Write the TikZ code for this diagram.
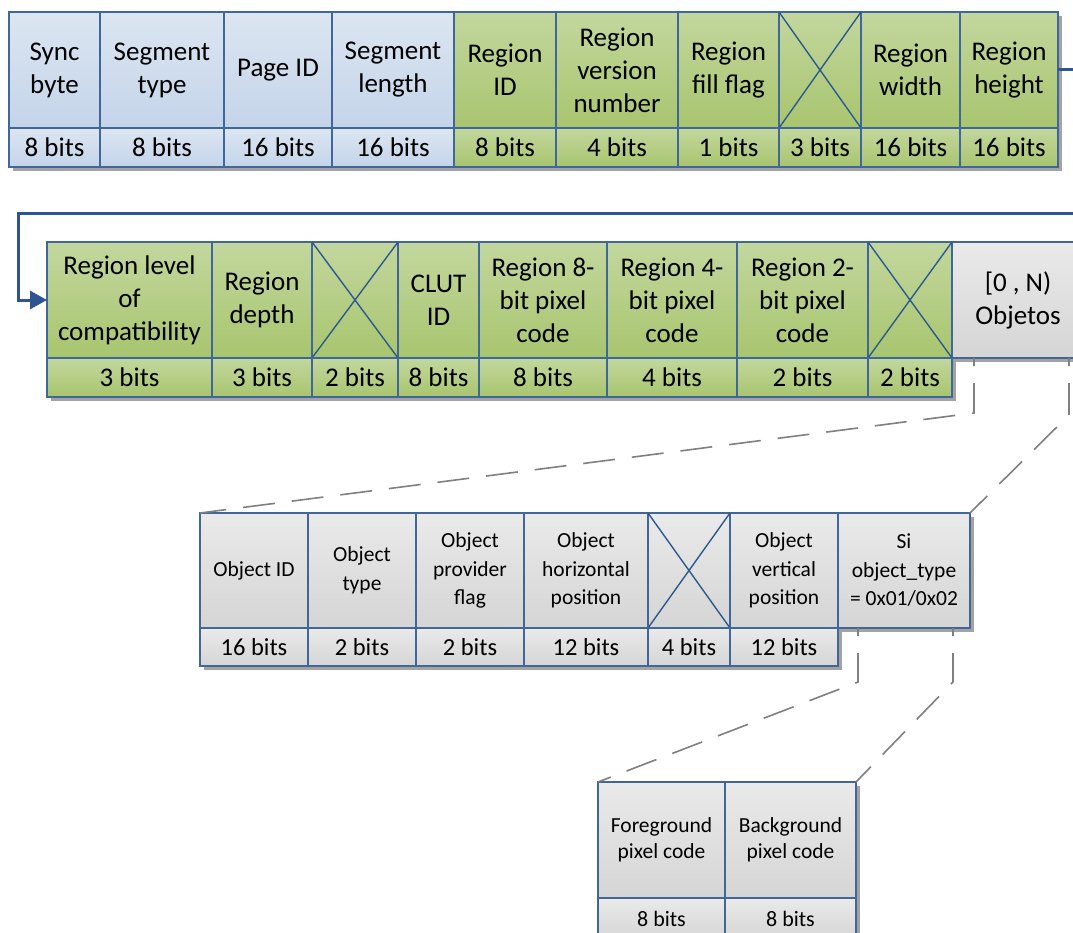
\documentclass[tikz,border=0pt]{standalone}
\usepackage{fontspec}
\setmainfont{Carlito}
\usetikzlibrary{arrows.meta}

\definecolor{bluetop}{HTML}{DCE6F2}
\definecolor{bluebot}{HTML}{C4D4E9}
\definecolor{greentop}{HTML}{C3D79E}
\definecolor{greenbot}{HTML}{A8C56E}
\definecolor{greytop}{HTML}{EAEAEA}
\definecolor{greybot}{HTML}{D5D5D5}
\definecolor{cellborder}{HTML}{41679A}
\definecolor{crossline}{HTML}{2D5A8E}
\definecolor{flowblue}{HTML}{2F5590}
\definecolor{shadowgrey}{HTML}{A3A3A3}
\definecolor{zoomgrey}{HTML}{808080}

\tikzset{
  cellbase/.style={draw=cellborder, line width=1.1pt, inner sep=0pt, outer sep=0pt,
    align=center, font=\fontsize{27}{33}\selectfont},
  bluecell/.style={cellbase, top color=bluetop, bottom color=bluebot},
  greencell/.style={cellbase, top color=greentop, bottom color=greenbot},
  greycell/.style={cellbase, top color=greytop, bottom color=greybot},
  objcell/.style={greycell, font=\fontsize{21.5}{28.5}\selectfont},
  objbits/.style={greycell, font=\fontsize{24.5}{28}\selectfont},
  pixcell/.style={greycell, font=\fontsize{21.5}{26.5}\selectfont},
  pixbits/.style={greycell, font=\fontsize{22}{26}\selectfont},
  reserved/.style={draw=crossline, line width=1.4pt},
  shadowbox/.style={fill=shadowgrey},
  flowarrow/.style={draw=flowblue, line width=3pt, -{Triangle[length=17pt,width=18pt]}},
  zoomline/.style={draw=zoomgrey, line width=1.6pt, dash pattern=on 32pt off 17pt, dash phase=24pt},
}

% field cell: name, x1, x2, y1, y2, style, text
\newcommand\fld[7]{%
  \node[#6, anchor=north west, minimum width={(#3-#2)*1pt},
        minimum height={(#5-#4)*1pt}] (#1) at (#2,#4) {#7};}
% cross over a reserved field
\newcommand\xcross[1]{%
  \draw[reserved] (#1.north west) -- (#1.south east) (#1.north east) -- (#1.south west);}

\begin{document}
\begin{tikzpicture}[x=1pt,y=-1pt]
\clip (0,0) rectangle (1073,933);
\fill[white] (0,0) rectangle (1073,933);

% ---------- row 1: segment header and region fields ----------
\fill[shadowbox] (13,16) rectangle (1062,171);
\fld{sync}{9}{100}{12}{128}{bluecell}{Sync\\byte}
\fld{segt}{100}{224}{12}{128}{bluecell}{Segment\\type}
\fld{page}{224}{332}{12}{128}{bluecell}{Page ID}
\fld{segl}{332}{454}{12}{128}{bluecell}{Segment\\length}
\fld{rid}{454}{556}{12}{128}{greencell}{Region\\ID}
\fld{rver}{556}{678}{12}{128}{greencell}{Region\\version\\number}
\fld{rfill}{678}{779}{12}{128}{greencell}{Region\\fill flag}
\fld{rres}{779}{861}{12}{128}{greencell}{}
\fld{rw}{861}{960}{12}{128}{greencell}{Region\\width}
\fld{rh}{960}{1058}{12}{128}{greencell}{Region\\height}
\xcross{rres}

\fld{b1}{9}{100}{128}{167}{bluecell}{8 bits}
\fld{b2}{100}{224}{128}{167}{bluecell}{8 bits}
\fld{b3}{224}{332}{128}{167}{bluecell}{16 bits}
\fld{b4}{332}{454}{128}{167}{bluecell}{16 bits}
\fld{b5}{454}{556}{128}{167}{greencell}{8 bits}
\fld{b6}{556}{678}{128}{167}{greencell}{4 bits}
\fld{b7}{678}{779}{128}{167}{greencell}{1 bits}
\fld{b8}{779}{861}{128}{167}{greencell}{3 bits}
\fld{b9}{861}{960}{128}{167}{greencell}{16 bits}
\fld{b10}{960}{1058}{128}{167}{greencell}{16 bits}

% ---------- row 2: remaining region fields ----------
\fill[shadowbox] (51,246) rectangle (956,401);
\fill[shadowbox] (956,246) rectangle (1100,362);
\fld{rl}{47}{212}{242}{358}{greencell}{Region level\\of\\compatibility}
\fld{rd}{212}{312}{242}{358}{greencell}{Region\\depth}
\fld{rres2}{312}{398}{242}{358}{greencell}{}
\fld{clut}{398}{479}{242}{358}{greencell}{CLUT\\ID}
\fld{p8}{479}{607}{242}{358}{greencell}{Region 8-\\bit pixel\\code}
\fld{p4}{607}{737}{242}{358}{greencell}{Region 4-\\bit pixel\\code}
\fld{p2}{737}{868}{242}{358}{greencell}{Region 2-\\bit pixel\\code}
\fld{rres3}{868}{952}{242}{358}{greencell}{}
\fld{objs}{952}{1096}{242}{358}{greycell}{\hspace*{-12pt}[0 , N)\\\hspace*{-12pt}Objetos}
\xcross{rres2}
\xcross{rres3}

\fld{c1}{47}{212}{358}{397}{greencell}{3 bits}
\fld{c2}{212}{312}{358}{397}{greencell}{3 bits}
\fld{c3}{312}{398}{358}{397}{greencell}{2 bits}
\fld{c4}{398}{479}{358}{397}{greencell}{8 bits}
\fld{c5}{479}{607}{358}{397}{greencell}{8 bits}
\fld{c6}{607}{737}{358}{397}{greencell}{4 bits}
\fld{c7}{737}{868}{358}{397}{greencell}{2 bits}
\fld{c8}{868}{952}{358}{397}{greencell}{2 bits}

% ---------- row 3: object fields ----------
\fill[shadowbox] (204,517) rectangle (842,670);
\fill[shadowbox] (842,517) rectangle (974,632);
\fld{oid}{200}{308}{513}{628}{objcell}{Object ID}
\fld{otype}{308}{416}{513}{628}{objcell}{Object\\type}
\fld{oprov}{416}{524}{513}{628}{objcell}{Object\\provider\\flag}
\fld{ohor}{524}{648}{513}{628}{objcell}{Object\\horizontal\\position}
\fld{ores}{648}{730}{513}{628}{objcell}{}
\fld{over}{730}{838}{513}{628}{objcell}{Object\\vertical\\position}
\fld{si}{838}{970}{513}{628}{objcell}{Si\\object\_type\\= 0x01/0x02}
\xcross{ores}

\fld{d1}{200}{308}{628}{666}{objbits}{16 bits}
\fld{d2}{308}{416}{628}{666}{objbits}{2 bits}
\fld{d3}{416}{524}{628}{666}{objbits}{2 bits}
\fld{d4}{524}{648}{628}{666}{objbits}{12 bits}
\fld{d5}{648}{730}{628}{666}{objbits}{4 bits}
\fld{d6}{730}{838}{628}{666}{objbits}{12 bits}

% ---------- row 4: pixel codes ----------
\fill[shadowbox] (602,786) rectangle (860,945);
\fld{fg}{598}{725}{782}{898}{pixcell}{Foreground\\pixel code}
\fld{bg}{725}{856}{782}{898}{pixcell}{Background\\pixel code}
\fld{e1}{598}{725}{898}{940}{pixbits}{8 bits}
\fld{e2}{725}{856}{898}{940}{pixbits}{8 bits}

% ---------- continuation arrow ----------
\draw[flowarrow] (rh.east) -- ++(40,0) |- (18,214) |- (rl.west);

% ---------- expansion guides ----------
\draw[zoomline] ([xshift=22pt]objs.south west) -- ++(0,55) -- (oid.north west);
\draw[zoomline] ([xshift=117pt]objs.south west) -- ++(0,57) -- (si.north east);
\draw[zoomline] ([xshift=20pt]si.south west) -- ++(0,54) -- (fg.north west);
\draw[zoomline] ([xshift=115pt]si.south west) -- ++(0,54) -- (bg.north east);
\end{tikzpicture}
\end{document}
